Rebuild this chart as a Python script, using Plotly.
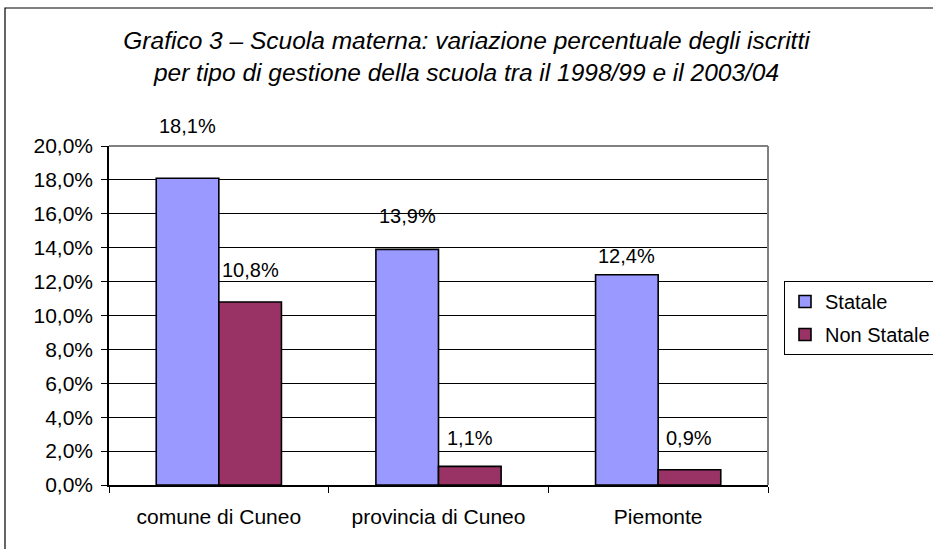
import plotly.graph_objects as go

categories = ["comune di Cuneo", "provincia di Cuneo", "Piemonte"]
series_names = ["Statale", "Non Statale"]
statale = [0.181, 0.139, 0.124]
non_statale = [0.108, 0.011, 0.009]
y_tick_values = [0.0, 0.02, 0.04, 0.06, 0.08, 0.10, 0.12, 0.14, 0.16, 0.18, 0.20]
title_lines = [
    "Grafico 3 – Scuola materna: variazione percentuale degli iscritti",
    "per tipo di gestione della scuola tra il 1998/99 e il 2003/04",
]

FONT = "Liberation Sans, Arial, sans-serif"
colors = ["#9999FF", "#993366"]

# pixel offsets of the data labels above the bar tops (as in the reference)
label_shift = [[52, 32], [33, 28], [19, 32]]

W, H = 933, 549
ML, MR, MT, MB = 109, 165, 146, 64
PW, PH = W - ML - MR, H - MT - MB

fig = go.Figure()
for i, (name, vals) in enumerate(zip(series_names, [statale, non_statale])):
    fig.add_bar(
        name=name, x=categories, y=vals, legendgroup=name,
        marker=dict(color=colors[i], line=dict(color="black", width=1.6)),
        hoverinfo="skip",
    )

def fmt(v):
    return f"{v*100:.1f}%".replace(".", ",")

annotations = []
bar_px = PW / 3 * (1 - 0.43) / 2
for ci, cat in enumerate(categories):
    for si, vals in enumerate([statale, non_statale]):
        annotations.append(dict(
            x=cat, y=vals[ci], xref="x", yref="y", text=fmt(vals[ci]),
            showarrow=False, xshift=(-0.5 if si == 0 else 0.5) * bar_px,
            yshift=label_shift[ci][si], yanchor="middle", xanchor="center",
            font=dict(family=FONT, size=20, color="black"),
        ))

def px_x(p):
    return (p - ML) / PW

def px_y(p):
    return (H - MB - p) / PH

shapes = [
    # outer chart border (right and bottom edges are outside the picture)
    dict(type="rect", xref="paper", yref="paper", x0=px_x(5), x1=px_x(960),
         y0=px_y(580), y1=px_y(8), line=dict(color="black", width=1.2), layer="below"),
    # plot-area border, top and right (grey)
    dict(type="line", xref="paper", yref="paper", x0=0, x1=1, y0=1, y1=1,
         line=dict(color="#808080", width=2)),
    dict(type="line", xref="paper", yref="paper", x0=1, x1=1, y0=0, y1=1,
         line=dict(color="#808080", width=2)),
]

fig.update_layout(
    width=W, height=H,
    margin=dict(l=ML, r=MR, t=MT, b=MB, autoexpand=False),
    paper_bgcolor="white", plot_bgcolor="white",
    separators=",.",
    barmode="group", bargap=0.43, bargroupgap=0,
    font=dict(family=FONT, size=21, color="black"),
    title=dict(
        text="<i>" + "<br>".join(title_lines) + "</i>",
        x=0.5, xref="container", xanchor="center",
        y=1 - 49 / H, yref="container", yanchor="top",
        font=dict(family=FONT, size=24.5, color="black"),
    ),
    xaxis=dict(
        type="category", tickson="boundaries", ticks="outside", ticklen=6,
        tickcolor="black", showline=True, linecolor="black", linewidth=1.5,
        showgrid=False, tickfont=dict(family=FONT, size=21, color="black"),
        fixedrange=True, automargin=False, ticklabelstandoff=12,
    ),
    yaxis=dict(
        range=[0, 0.2], tickvals=y_tick_values, tickformat=".1%",
        ticks="outside", ticklen=6, tickcolor="black",
        showline=True, linecolor="black", linewidth=1.5,
        showgrid=True, gridcolor="black", gridwidth=1, zeroline=False,
        tickfont=dict(family=FONT, size=21, color="black"),
        fixedrange=True, automargin=False, ticklabelstandoff=4,
    ),
    legend=dict(
        x=px_x(784), y=px_y(281), xanchor="left", yanchor="top",
        xref="paper", yref="paper",
        bordercolor="black", borderwidth=1, bgcolor="white",
        font=dict(family=FONT, size=20, color="black"),
        tracegroupgap=4, traceorder="grouped", itemwidth=30,
    ),
    annotations=annotations,
    shapes=shapes,
    showlegend=True,
)

fig.write_html(
    "out.html",
    config={"displayModeBar": False},
    post_script="document.body.style.margin='0px';",
)
